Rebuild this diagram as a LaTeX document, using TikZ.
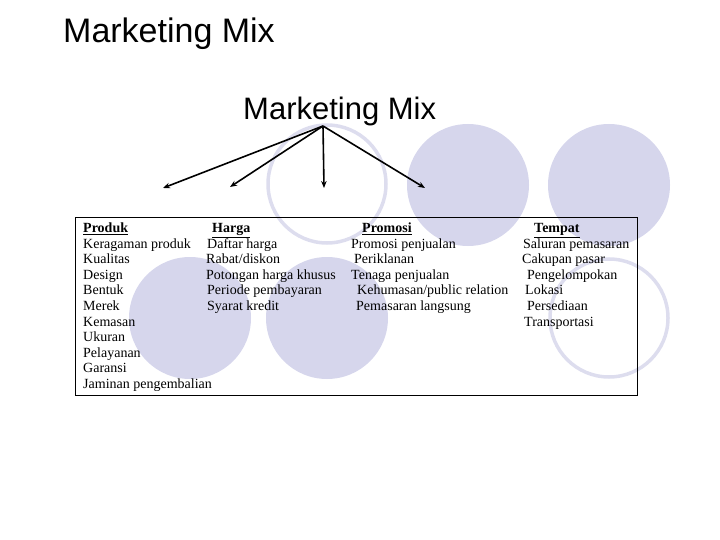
\documentclass[tikz,border=0pt]{standalone}
\usepackage{fontspec}
\setmainfont{Liberation Serif}
\setsansfont{Liberation Sans}
\usetikzlibrary{arrows.meta}
\definecolor{bubble}{RGB}{214,214,236}
\definecolor{ring}{RGB}{221,221,238}
\newcommand{\Head}[1]{\textbf{\underline{#1}}}

\begin{document}
\begin{tikzpicture}[x=1pt,y=-1pt,
    txt/.style={anchor=base west,inner sep=0pt,font=\fontsize{14}{16}\selectfont},
    big/.style={anchor=base west,inner sep=0pt,font=\sffamily\fontsize{#1}{#1}\selectfont},
    tip/.style={-{Stealth[length=7pt,width=5.5pt]},line width=1.6pt}]
    \useasboundingbox (0,0) rectangle (720,540);
    % bubbles behind
    \fill[bubble] (468,185) circle (61) (609,185) circle (61)
        (190,318) circle (61) (327,318) circle (61);
    \draw[ring,line width=3.5pt] (327,184) circle (59) (609,318) circle (59);
    % titles
    \node[big=34] (title) at (63,43) {Marketing Mix};
    \node[big=31] (mix) at (243,120) {Marketing Mix};
    % arrows
    \coordinate (root) at (323,126);
    \foreach \x/\y [count=\i] in {163/188,230/187,324/188,425/188}
        \coordinate (end\i) at (\x,\y);
    \foreach \i in {1,...,4}
        \draw[tip] (root) -- (end\i);
    % table
    \draw[line width=0.8pt] (75,217) rectangle (637,395);
    \path (83,233) node[txt] (hprod) {\Head{Produk}}
        (212,233) node[txt] (hharga) {\Head{Harga}}
        (362,233) node[txt] (hpromo) {\Head{Promosi}}
        (534,233) node[txt] (htempat) {\Head{Tempat}};
    \foreach \x/\t [count=\i] in {83/Keragaman produk,83/Kualitas,83/Design,83/Bentuk,
        83/Merek,83/Kemasan,83/Ukuran,83/Pelayanan,83/Garansi,83/Jaminan pengembalian}
        \node[txt] (prod\i) at (\x,{248+15.6*(\i-1)}) {\t};
    \foreach \x/\t [count=\i] in {207/Daftar harga,206/{Rabat/diskon},
        206/Potongan harga khusus,207/Periode pembayaran,207/Syarat kredit}
        \node[txt] (harga\i) at (\x,{248+15.6*(\i-1)}) {\t};
    \foreach \x/\t [count=\i] in {351/Promosi penjualan,354/Periklanan,351/Tenaga penjualan,
        357/{Kehumasan/public relation},356/Pemasaran langsung}
        \node[txt] (promo\i) at (\x,{248+15.6*(\i-1)}) {\t};
    \foreach \x/\t [count=\i] in {523/Saluran pemasaran,522/Cakupan pasar,527/Pengelompokan,
        525/Lokasi,527/Persediaan,524/Transportasi}
        \node[txt] (tempat\i) at (\x,{248+15.6*(\i-1)}) {\t};
\end{tikzpicture}
\end{document}
